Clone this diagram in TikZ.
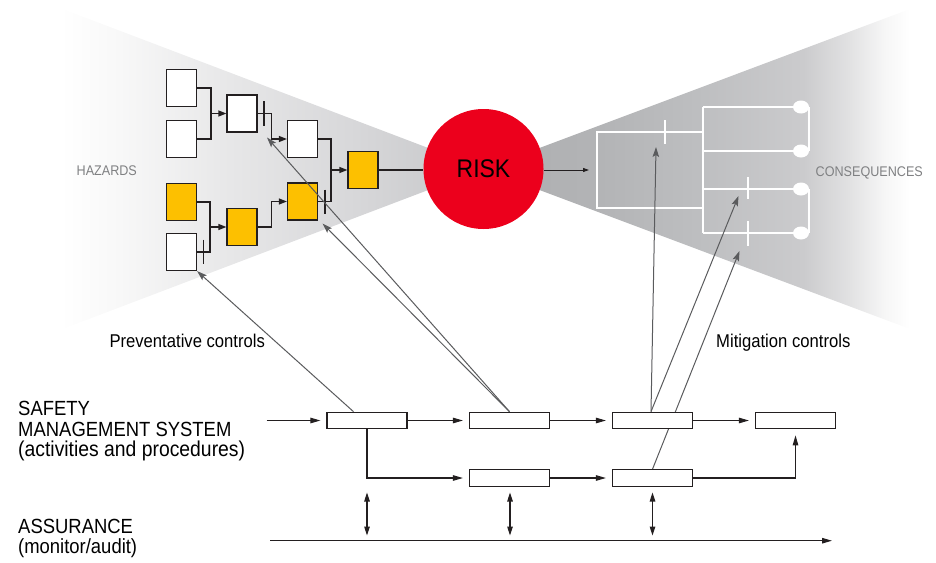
\documentclass[tikz,border=0pt]{standalone}
\usepackage{fontspec}
\setmainfont{Liberation Sans}[FakeStretch=0.9]
\usetikzlibrary{arrows.meta,calc}
\pgfdeclarelayer{bg}
\pgfsetlayers{bg,main}

\definecolor{boxline}{HTML}{231F20}
\definecolor{amber}{HTML}{FDC000}
\definecolor{riskred}{HTML}{EC001C}
\definecolor{ctlgray}{HTML}{5A5B5D}
\definecolor{labelgray}{HTML}{7F8082}
\definecolor{hzA}{HTML}{F8F8F8}
\definecolor{hzB}{HTML}{E7E7E8}
\definecolor{hzC}{HTML}{D7D7D9}
\definecolor{hzD}{HTML}{C5C6C8}
\definecolor{csA}{HTML}{AEAFB1}
\definecolor{csB}{HTML}{B2B3B5}
\definecolor{csC}{HTML}{BDBEC0}
\definecolor{csD}{HTML}{CBCBCD}
\definecolor{csE}{HTML}{E2E2E3}
\definecolor{csF}{HTML}{F6F6F6}

% fan shadings behind the hazard and consequence trees
\pgfdeclarehorizontalshading{hazardfan}{100bp}{color(0bp)=(white); color(25bp)=(white);
  color(32bp)=(hzA); color(45bp)=(hzB); color(60bp)=(hzC); color(75bp)=(hzD); color(100bp)=(hzD)}
\pgfdeclarehorizontalshading{consfan}{100bp}{color(0bp)=(csA); color(25bp)=(csA);
  color(37.5bp)=(csB); color(50bp)=(csC); color(62.5bp)=(csD); color(68bp)=(csE);
  color(72bp)=(csF); color(75bp)=(white); color(100bp)=(white)}

\begin{document}
\begin{tikzpicture}[x=1pt,y=-1pt,
  treebox/.style={draw=boxline, line width=1.2pt, fill=white, inner sep=0pt,
    minimum width=30pt, minimum height=37pt},
  hazbox/.style={treebox, fill=amber},
  link/.style={draw=boxline, line width=1.2pt},
  tip/.style={-{Triangle[length=8pt,width=6pt]}},
  barrier/.style={draw=boxline, line width=1.2pt},
  smsbox/.style={draw=boxline, line width=1.2pt, fill=white, inner sep=0pt,
    minimum width=80pt, minimum height=16.5pt},
  flow/.style={draw=boxline, line width=1.1pt, -{Triangle[length=10pt,width=5.5pt]}, shorten >=6pt},
  dbl/.style={draw=boxline, line width=1.1pt,
    {Triangle[length=9pt,width=5.5pt]}-{Triangle[length=9pt,width=5.5pt]}},
  ctl/.style={draw=ctlgray, line width=1pt, -{Stealth[length=10pt,width=6.5pt,inset=2pt]}},
  consq/.style={draw=white, line width=1.4pt},
  biglabel/.style={font=\fontsize{20.5}{21}\selectfont, anchor=base west, inner sep=0pt},
  ctllabel/.style={font=\fontsize{18.5}{22}\selectfont, anchor=base west, inner sep=0pt},
  fanlabel/.style={font=\fontsize{14}{16}\selectfont, text=labelgray, anchor=base west, inner sep=0pt}
]
\useasboundingbox (0,0) rectangle (936,562);

% ---------- hazard tree ----------
\node[treebox] (A1) at (181.5,88) {};
\node[treebox] (A2) at (181.5,139) {};
\node[treebox] (B)  at (242,113.5) {};
\node[hazbox]  (Y1) at (181.5,202) {};
\node[treebox] (W)  at (181.5,252) {};
\node[hazbox]  (Y2) at (242,227) {};
\node[treebox] (C)  at (302.5,139) {};
\node[hazbox]  (D)  at (302.5,201.5) {};
\node[hazbox]  (E)  at (363,170) {};

\coordinate (jA) at (211,113.5);
\draw[link] (A1.east) -| (jA);
\draw[link] (A2.east) -| (jA);
\draw[link,tip] (jA) -- (B.west);
\draw[link,tip] (B.east) -- ++(14,0) |- (C.west);
\draw[barrier] (264,101) -- (264,125.5);

\coordinate (jY) at (210,227);
\draw[link] (Y1.east) -| (jY);
\draw[link] (W.east) -| (jY);
\draw[link,tip] (jY) -- (Y2.west);
\draw[barrier] (203.5,239.5) -- (203.5,264);
\draw[link,tip] (Y2.east) -- ++(14,0) |- (D.west);

\coordinate (jE) at (331,170);
\draw[link] (C.east) -| (jE);
\draw[link] (D.east) -| (jE);
\draw[link,tip] (jE) -- (E.west);
\draw[barrier] (325,189.5) -- (325,214);

% ---------- top event ----------
\node[circle, fill=riskred, minimum size=120pt, inner sep=0pt] (risk) at (483.5,169) {};
\node[font=\fontsize{25.5}{28}\selectfont, anchor=base, inner sep=0pt] (risktext) at (483.5,177) {RISK};
\draw[link] (E.east) -- (E.east -| risk.west);
\coordinate (out) at (589,170);
\draw[draw=boxline, line width=1pt, -{Triangle[length=6pt,width=4pt]}] (E.east -| risk.east) -- (out);

% ---------- consequence tree ----------
\draw[consq] (597,132) rectangle (703,208);
\draw[consq] (703,107) -- (703,233);
\foreach \y in {107,151,189,233} \draw[consq] (703,\y) -- (801,\y);
\draw[consq] (809,107) -- (809,151);
\draw[consq] (809,189) -- (809,233);
\foreach \y in {107,151,189,233} \fill[white] (801,\y) ellipse [x radius=8, y radius=6.5];
\draw[consq] (665,120) -- (665,144);
\draw[consq] (748,177) -- (748,199);
\draw[consq] (748,221) -- (748,246);

% ---------- fan labels ----------
\node[fanlabel] (haz) at (76.5,175) {HAZARDS};
\node[fanlabel] (cons) at (815.5,176.5) {CONSEQUENCES};

% ---------- safety management system ----------
\node[smsbox] (S1) at (367,420.5) {};
\node[smsbox] (S2) at (509.5,420.5) {};
\node[smsbox] (S3) at (652.5,420.5) {};
\node[smsbox] (S4) at (795.5,420.5) {};
\node[smsbox] (L1) at (509.5,478) {};
\node[smsbox] (L2) at (652.5,478) {};

\coordinate (in) at (266.5,420.5);
\draw[flow] (in) -- (S1.west);
\draw[flow] (S1.east) -- (S2.west);
\draw[flow] (S2.east) -- (S3.west);
\draw[flow] (S3.east) -- (S4.west);
\draw[flow] (S1.south) |- (L1.west);
\draw[flow] (L1.east) -- (L2.west);
\draw[flow] (L2.east) -| (S4.south);

% assurance links
\foreach \n/\x in {1/367,2/510,3/652.5} {
  \coordinate (up\n) at (\x,492.5);
  \coordinate (dn\n) at (\x,535.5);
  \draw[dbl] (up\n) -- (dn\n);
}
\coordinate (a0) at (270,540.7);
\coordinate (a1) at (832,540.7);
\draw[draw=boxline, line width=1.1pt, -{Triangle[length=10pt,width=5.5pt]}] (a0) -- (a1);

% ---------- controls ----------
\coordinate (tB) at (267,137.5);
\coordinate (tD) at (322.5,223.5);
\coordinate (tM1) at (656,147);
\coordinate (tM2) at (738.5,196);
\coordinate (tM3) at (739.5,251);
\draw[ctl] ([xshift=-13.5pt]S1.north) -- (W.south east);
\draw[ctl] (S2.north) -- (tB);
\draw[ctl] (S2.north) -- (tD);
\draw[ctl] ([xshift=-1.5pt]S3.north) -- (tM1);
\draw[ctl] ([xshift=-1.5pt]S3.north) -- (tM2);

\node[ctllabel] (prev) at (109.3,347.3) {Preventative controls};
\node[ctllabel] (miti) at (716,347.3) {Mitigation controls};

% ---------- row labels ----------
\node[biglabel] (sms) at (18,415.7) {\begin{tabular}[t]{@{}l@{}}
  SAFETY\\
  MANAGEMENT SYSTEM\\[-2pt]
  {\fontsize{21.5}{21}\selectfont (activities and procedures)}
\end{tabular}};
\node[biglabel] (assur) at (18,533.3) {\begin{tabular}[t]{@{}l@{}}
  ASSURANCE\\[-1.3pt]
  (monitor/audit)
\end{tabular}};

% ---------- background fans and the hidden control line ----------
\begin{pgfonlayer}{bg}
  \shade[shading=hazardfan] (60,8) -- (483.5,169) -- (60,330) -- cycle;
  \shade[shading=consfan] (483.5,169) -- (910,9) -- (910,329) -- cycle;
  \draw[ctl] (L2.north) -- (tM3);
\end{pgfonlayer}
\end{tikzpicture}
\end{document}
